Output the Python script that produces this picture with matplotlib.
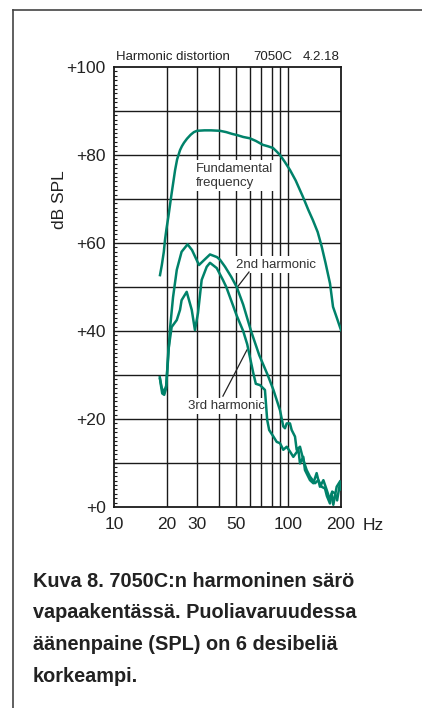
import matplotlib
matplotlib.use("Agg")
import matplotlib.pyplot as plt
from matplotlib.lines import Line2D
from matplotlib.ticker import MultipleLocator, NullLocator

plt.rcParams['font.family'] = ['Liberation Sans', 'DejaVu Sans']

# --- data (Hz, dB SPL) ---
fund_freq = [18.35, 18.8, 19.3, 19.6, 20.0, 20.5, 21.0, 21.4, 22.0, 22.4, 23.0, 23.9,
             24.5, 25.2, 26.2, 27.5, 28.7, 29.9, 33.0, 36.0, 40.5, 44.0, 47.5, 51.0, 55.0,
             60.0, 65.0, 71.4, 76.0, 81.5, 86.0, 89.4, 95.0, 102, 110, 121, 130, 138,
             147, 155, 163, 173, 180, 190, 200]
fund_db = [52.7, 55.0, 58.0, 60.7, 63.3, 66.0, 69.0, 71.3, 74.5, 76.6, 79.0, 81.1,
           82.0, 82.8, 83.7, 84.6, 85.2, 85.5, 85.6, 85.6, 85.5, 85.2, 84.8, 84.5, 84.1,
           83.8, 83.2, 82.3, 82.0, 81.6, 80.7, 80.0, 78.5, 76.6, 74.2, 70.5, 67.5, 65.2,
           62.5, 59.2, 55.5, 50.8, 45.5, 42.8, 40.2]

h2_freq = [18.35, 18.8, 19.3, 19.9, 20.4, 20.9, 21.8, 22.9, 24.4, 26.4, 28.0, 30.7,
           32.4, 35.5, 38.9, 40.5, 43.3, 47.0, 50.5, 55.0, 61.0, 68.0, 76.0, 82.0,
           89.4, 93.4, 95.5, 97.7, 102, 104.3, 109, 111.4, 116.4, 121.6, 127.1, 132.8,
           141.9, 148.3, 155, 161.9, 166, 172.9, 178, 184.7, 190, 197.3, 200]
h2_db = [29.1, 27.0, 26.1, 27.5, 33.4, 40.2, 47.7, 53.9, 58.0, 59.7, 58.4, 55.0,
         55.9, 57.4, 56.8, 56.2, 54.6, 52.3, 50.0, 46.0, 40.0, 34.5, 30.0, 26.6,
         22.0, 18.3, 17.9, 19.0, 19.0, 17.5, 16.0, 13.0, 13.7, 10.7, 8.4, 6.9,
         5.4, 6.1, 4.6, 4.2, 2.5, 0.8, 3.5, 3.1, 1.5, 5.4, 4.0]

h3_freq = [18.3, 18.6, 18.9, 19.4, 19.9, 20.5, 21.4, 22.9, 23.9, 24.4, 26.1, 27.9,
           29.1, 30.3, 31.8, 34.0, 35.5, 38.8, 42.1, 44.0, 50.5, 55.0, 58.0, 62.8,
           65.0, 68.7, 73.3, 75.5, 77.5, 82.0, 85.6, 89.4, 93.4, 97.7, 102, 106.6,
           114, 116.4, 121.6, 124.3, 132.8, 138.8, 145, 151.5, 158.5, 165.5, 172.9,
           176.8, 180.7, 188.9, 197.3]
h3_db = [29.5, 27.5, 25.8, 25.5, 27.0, 35.7, 40.9, 42.5, 44.8, 47.0, 48.9, 44.8,
         40.2, 44.1, 51.6, 54.6, 55.5, 54.3, 51.6, 50.0, 43.5, 40.0, 37.0, 30.5,
         28.0, 27.7, 26.6, 19.8, 17.5, 16.0, 14.8, 14.5, 13.0, 13.7, 12.6, 11.4,
         13.0, 9.9, 11.4, 8.4, 6.1, 5.4, 7.7, 4.6, 6.1, 3.9, 1.6,
         3.1, 0.5, 4.6, 5.8]

grid_freqs = [20, 30, 40, 50, 60, 70, 80, 90, 100]
x_ticks = [10, 20, 30, 50, 100, 200]
x_tick_labels = ['10', '20', '30', '50', '100', '200']
y_ticks = [0, 20, 40, 60, 80, 100]
y_tick_labels = ['+0', '+20', '+40', '+60', '+80', '+100']

caption = ["Kuva 8. 7050C:n harmoninen särö",
           "vapaakentässä. Puoliavaruudessa",
           "äänenpaine (SPL) on 6 desibeliä",
           "korkeampi."]

# --- layout ---
W, H = 422, 708
GREEN = '#00826a'
INK = '#1a1a1a'

fig = plt.figure(figsize=(W / 100, H / 100), dpi=100)
ax = fig.add_axes([114 / W, 1 - 507 / H, 227 / W, 440 / H])
ax.set_xscale('log')
ax.set_xlim(10, 200)
ax.set_ylim(0, 100)

# grid
for f in grid_freqs:
    ax.axvline(f, color=INK, lw=1.0, zorder=1)
for d in range(10, 100, 10):
    ax.axhline(d, color=INK, lw=1.0, zorder=1)

for s in ax.spines.values():
    s.set_color(INK)
    s.set_linewidth(1.3)

# curves
for fx, fy in [(fund_freq, fund_db), (h2_freq, h2_db), (h3_freq, h3_db)]:
    ax.plot(fx, fy, color=GREEN, lw=1.8, zorder=4, solid_joinstyle='round')

# ticks
ax.set_xticks(x_ticks)
ax.set_xticklabels(x_tick_labels)
ax.xaxis.set_minor_locator(NullLocator())
ax.set_yticks(y_ticks)
ax.set_yticklabels(y_tick_labels)
ax.yaxis.set_minor_locator(MultipleLocator(1))
ax.tick_params(axis='x', which='major', length=0, pad=7, labelsize=12.5, colors='#222222')
ax.tick_params(axis='y', which='major', length=0, pad=6, labelsize=12.5, colors='#222222')
ax.tick_params(axis='y', which='minor', direction='in', length=2, width=0.8, color=INK)

# labels inside the plot
box = dict(facecolor='white', edgecolor='none', pad=1.5)
ax.text(29.3, 75.3, 'Fundamental\nfrequency', fontsize=9.5, color='#333333',
        va='center', ha='left', linespacing=1.25, bbox=box, zorder=3)
ax.text(50.3, 55.1, '2nd harmonic', fontsize=9.5, color='#333333',
        va='center', ha='left', bbox=box, zorder=3)
ax.text(26.7, 23.0, '3rd harmonic', fontsize=9.5, color='#333333',
        va='center', ha='left', bbox=box, zorder=3)
ax.plot([59.4, 51.0], [53.4, 50.0], color='#222222', lw=0.9, zorder=3)
ax.plot([42.1, 57.8], [25.2, 35.7], color='#222222', lw=0.9, zorder=3)

# header and axis titles
fig.text(116 / W, 1 - 60 / H, 'Harmonic distortion', fontsize=9.5, color='#222222', va='baseline')
fig.text(253 / W, 1 - 60 / H, '7050C', fontsize=9.5, color='#222222', va='baseline')
fig.text(303 / W, 1 - 60 / H, '4.2.18', fontsize=9.5, color='#222222', va='baseline')
fig.text(60 / W, 1 - 200 / H, 'dB SPL', fontsize=12.5, color='#222222', rotation=90,
         ha='center', va='center')
fig.text(363 / W, 1 - 525 / H, 'Hz', fontsize=12.5, color='#222222', ha='left', va='center')

# caption
for i, line in enumerate(caption):
    fig.text(33 / W, 1 - (586.7 + 31.7 * i) / H, line, fontsize=14.3, fontweight='bold',
             color='#222222', va='baseline', ha='left')

# outer frame (left and top edges)
fig.add_artist(Line2D([13 / W, 13 / W], [0, 1 - 10 / H], transform=fig.transFigure,
                      color='#444444', lw=1.2))
fig.add_artist(Line2D([13 / W, 1], [1 - 10 / H, 1 - 10 / H], transform=fig.transFigure,
                      color='#444444', lw=1.2))

fig.savefig('out.png', dpi=100)
plt.close(fig)
